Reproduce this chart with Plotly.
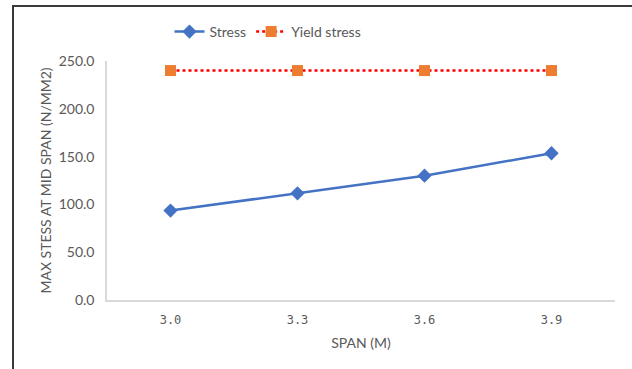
import plotly.graph_objects as go

# Span lengths (m) and stresses (N/mm²)
spans = ["3.0", "3.3", "3.6", "3.9"]
stress = [93.5, 111.6, 130.0, 153.5]
yield_stress = [240.0, 240.0, 240.0, 240.0]
y_ticks = [0, 50, 100, 150, 200, 250]
y_tick_text = ["0.0", "50.0", "100.0", "150.0", "200.0", "250.0"]

FONT = "Lato"
GREY = "#595959"

fig = go.Figure()
fig.add_trace(go.Scatter(
    x=spans, y=stress, name="Stress", mode="lines+markers",
    line=dict(color="#4472C4", width=2.5),
    marker=dict(symbol="diamond", size=11, color="#4472C4"),
))
fig.add_trace(go.Scatter(
    x=spans, y=yield_stress, name="Yield stress", mode="lines+markers",
    line=dict(color="#FF0000", width=2.5, dash="dot"),
    marker=dict(symbol="square", size=11, color="#ED7D31"),
))

L, R, T, B = 107, 17, 61, 69
W, H = 632, 369
pw, ph = W - L - R, H - T - B

# Chart frame (left and top edges visible)
fig.add_shape(
    type="rect", xref="paper", yref="paper",
    x0=(13 - L) / pw, x1=2.0,
    y0=-1.0, y1=(H - B - 6) / ph,
    line=dict(color="#3a3a3a", width=2), fillcolor="rgba(0,0,0,0)",
    layer="below",
)

fig.update_layout(
    width=W, height=H,
    margin=dict(l=L, r=R, t=T, b=B),
    paper_bgcolor="white", plot_bgcolor="white",
    font=dict(family=FONT, size=14, color=GREY),
    showlegend=True,
    legend=dict(
        orientation="h", xref="container", yref="container",
        x=268 / W, xanchor="center", y=1 - 32 / H, yanchor="middle",
        bgcolor="rgba(0,0,0,0)",
        font=dict(family=FONT, size=14, color=GREY),
        itemwidth=30, tracegroupgap=0,
    ),
    xaxis=dict(
        type="category", range=[-0.5, 3.5], automargin=False,
        showline=True, linecolor="#D9D9D9", linewidth=1.5,
        showgrid=False, ticks="", zeroline=False, ticklabelstandoff=8,
        tickfont=dict(family="DejaVu Sans Mono", size=12, color=GREY),
        title=dict(text="SPAN (M)", font=dict(family=FONT, size=14, color=GREY), standoff=12),
    ),
    yaxis=dict(
        range=[0, 250], tickvals=y_ticks, ticktext=y_tick_text, automargin=False,
        showline=True, linecolor="#D9D9D9", linewidth=1.5,
        showgrid=False, ticks="", zeroline=False, ticklabelstandoff=8,
        tickfont=dict(family=FONT, size=14, color=GREY),
        title=dict(text="MAX STESS AT MID SPAN (N/MM2)",
                   font=dict(family=FONT, size=14, color=GREY), standoff=4),
    ),
)

fig.write_html("out.html")
